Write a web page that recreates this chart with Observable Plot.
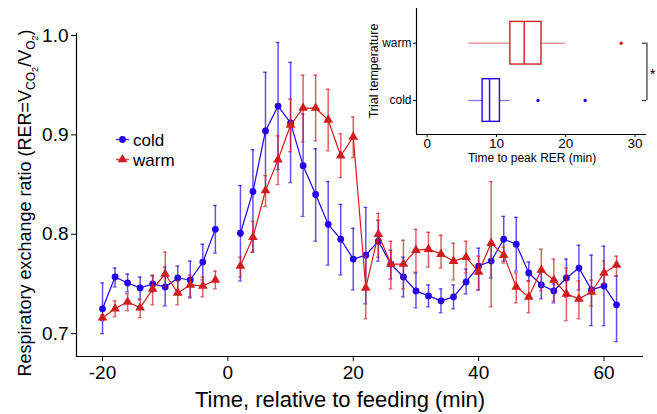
<!DOCTYPE html>
<html>
<head>
<meta charset="utf-8">
<script src="https://cdn.jsdelivr.net/npm/d3@7"></script>
<script src="https://cdn.jsdelivr.net/npm/@observablehq/plot@0.6"></script>
<style>
  html, body { margin: 0; padding: 0; background: #fff; }
  #wrap { position: relative; width: 657px; height: 414px; overflow: hidden; }
  #inset { position: absolute; left: 360px; top: 0px; }
</style>
</head>
<body>
<div id="wrap"><div id="main"></div><div id="inset"></div></div>
<script>
// ---------- main chart data ----------
const times = [-20,-18,-16,-14,-12,-10,-8,-6,-4,-2,2,4,6,8,10,12,14,16,18,20,22,24,26,28,30,32,34,36,38,40,42,44,46,48,50,52,54,56,58,60,62];
const coldMean = [0.725,0.757,0.751,0.746,0.750,0.747,0.756,0.754,0.772,0.805,0.801,0.843,0.904,0.929,0.912,0.869,0.840,0.810,0.795,0.775,0.779,0.793,0.770,0.757,0.743,0.738,0.733,0.737,0.752,0.768,0.773,0.795,0.790,0.761,0.749,0.743,0.756,0.766,0.744,0.748,0.729];
const coldLo   = [0.700,0.747,0.742,0.735,0.742,0.728,0.744,0.736,0.754,0.781,0.753,0.782,0.844,0.865,0.852,0.818,0.793,0.769,0.759,0.744,0.730,0.773,0.755,0.737,0.726,0.727,0.721,0.725,0.740,0.744,0.756,0.773,0.763,0.753,0.735,0.731,0.737,0.744,0.708,0.708,0.692];
const coldHi   = [0.751,0.766,0.760,0.757,0.758,0.767,0.768,0.773,0.790,0.829,0.849,0.885,0.963,0.993,0.973,0.921,0.886,0.853,0.830,0.806,0.827,0.814,0.784,0.777,0.761,0.749,0.745,0.749,0.765,0.786,0.790,0.818,0.817,0.772,0.763,0.750,0.775,0.789,0.779,0.788,0.758];
const warmMean = [0.716,0.725,0.732,0.726,0.745,0.760,0.741,0.749,0.748,0.754,0.768,0.797,0.844,0.875,0.910,0.927,0.927,0.915,0.879,0.898,0.746,0.800,0.770,0.770,0.784,0.785,0.780,0.773,0.777,0.762,0.791,0.779,0.747,0.737,0.764,0.754,0.740,0.735,0.742,0.761,0.769];
const warmLo   = [0.713,0.717,0.723,0.716,0.729,0.747,0.729,0.737,0.737,0.745,0.757,0.782,0.828,0.850,0.883,0.893,0.894,0.884,0.857,0.877,0.715,0.777,0.745,0.745,0.762,0.767,0.766,0.754,0.761,0.744,0.727,0.771,0.731,0.721,0.743,0.733,0.713,0.715,0.728,0.750,0.758];
const warmHi   = [0.719,0.733,0.740,0.734,0.759,0.782,0.753,0.759,0.757,0.763,0.777,0.813,0.859,0.899,0.936,0.960,0.960,0.946,0.901,0.918,0.778,0.821,0.793,0.794,0.805,0.802,0.799,0.791,0.793,0.778,0.853,0.787,0.761,0.753,0.785,0.775,0.766,0.753,0.754,0.773,0.778];
const xTicks = [-20, 0, 20, 40, 60];
const yTicks = [0.7, 0.8, 0.9, 1.0];
const seriesNames = ["cold", "warm"];

// ---------- inset (boxplot) data ----------
const boxCats   = ["warm", "cold"];
const boxPos    = [2, 1];
const boxWhLo   = [6, 6];
const boxQ1     = [12, 8];
const boxMedian = [14, 9];
const boxQ3     = [16.5, 10.5];
const boxWhHi   = [20, 12];
const outlierCat = ["warm", "cold", "cold"];
const outlierVal = [28, 16, 22.8];
const insetTicks = [0, 10, 20, 30];

const BLUE = "#2200ee";
const RED = "#d01e1e";
const colorOf = {cold: BLUE, warm: RED};
const FONT = "Arial, 'Liberation Sans', Helvetica, sans-serif";

const cold = times.map((t, i) => ({t, mean: coldMean[i], lo: coldLo[i], hi: coldHi[i], seg: t < 0 ? "a" : "b"}));
const warm = times.map((t, i) => ({t, mean: warmMean[i], lo: warmLo[i], hi: warmHi[i], seg: t < 0 ? "a" : "b"}));

const X0 = -24.15, X1 = 66.3, Y0 = 0.677, Y1 = 1.002;
const capHalf = 0.3;

function seriesMarks(data, color, symbol, r) {
  return [
    Plot.ruleX(data, {x: "t", y1: "lo", y2: "hi", stroke: color, strokeOpacity: 0.7, strokeWidth: 1.5}),
    Plot.ruleY(data, {y: "lo", x1: d => d.t - capHalf, x2: d => d.t + capHalf, stroke: color, strokeOpacity: 0.7, strokeWidth: 1.3}),
    Plot.ruleY(data, {y: "hi", x1: d => d.t - capHalf, x2: d => d.t + capHalf, stroke: color, strokeOpacity: 0.7, strokeWidth: 1.3}),
    Plot.line(data, {x: "t", y: "mean", z: "seg", stroke: color, strokeWidth: 1.2}),
    Plot.dot(data, {x: "t", y: "mean", symbol, r, fill: color, stroke: "none"})
  ];
}

const main = Plot.plot({
  width: 657, height: 414,
  marginLeft: 76, marginRight: 14, marginTop: 33, marginBottom: 58,
  style: {fontFamily: FONT, fontSize: "19px", color: "#000", background: "#fff", overflow: "visible"},
  x: {domain: [X0, X1], label: null},
  y: {domain: [Y0, Y1], label: null},
  marks: [
    Plot.axisX({ticks: xTicks, tickFormat: d => String(d), tickSize: 5, tickPadding: 4, fontSize: 19, label: null}),
    Plot.axisY({ticks: yTicks, tickFormat: d => d.toFixed(1), tickSize: 5, tickPadding: 3, fontSize: 19, label: null}),
    Plot.ruleX([X0], {stroke: "#000", strokeWidth: 1.2}),
    Plot.ruleY([Y0], {stroke: "#000", strokeWidth: 1.2}),
    ...seriesMarks(cold, BLUE, "circle", 3.4),
    ...seriesMarks(warm, RED, "triangle", 3.6)
  ]
});
document.getElementById("main").appendChild(main);

// axis titles and legend (real text)
const svg = d3.select(main);
svg.append("text")
  .attr("x", 340).attr("y", 407)
  .attr("text-anchor", "middle")
  .style("font-family", FONT).style("font-size", "22px").attr("fill", "#000")
  .text("Time, relative to feeding (min)");

const yl = svg.append("text")
  .attr("transform", "translate(31,203) rotate(-90)")
  .attr("text-anchor", "middle")
  .style("font-family", FONT).style("font-size", "18px").attr("fill", "#000");
yl.append("tspan").text("Respiratory exchange ratio (RER=V");
yl.append("tspan").attr("dy", 4).style("font-size", "12px").text("CO");
yl.append("tspan").attr("dy", 3).style("font-size", "9px").text("2");
yl.append("tspan").attr("dy", -7).text("/V");
yl.append("tspan").attr("dy", 4).style("font-size", "12px").text("O");
yl.append("tspan").attr("dy", 3).style("font-size", "9px").text("2");
yl.append("tspan").attr("dy", -7).text(")");

const lg = svg.append("g").style("font-family", FONT).style("font-size", "17px");
const legendRows = [
  {name: seriesNames[0], y: 139.5, sym: d3.symbolCircle, size: Math.PI * 3.4 * 3.4},
  {name: seriesNames[1], y: 159.5, sym: d3.symbolTriangle, size: Math.PI * 3.6 * 3.6}
];
legendRows.forEach(r => {
  const c = colorOf[r.name];
  lg.append("line").attr("x1", 116).attr("x2", 129).attr("y1", r.y).attr("y2", r.y)
    .attr("stroke", c).attr("stroke-width", 1.5).attr("stroke-opacity", 0.8);
  lg.append("path").attr("d", d3.symbol(r.sym, r.size)()).attr("transform", `translate(122.5,${r.y})`).attr("fill", c);
  lg.append("text").attr("x", 133).attr("y", r.y + 6).attr("text-anchor", "start").attr("fill", "#000").text(r.name);
});

// ---------- inset ----------
const boxes = boxCats.map((c, i) => ({cat: c, pos: boxPos[i], wlo: boxWhLo[i], q1: boxQ1[i], med: boxMedian[i], q3: boxQ3[i], whi: boxWhHi[i], color: colorOf[c]}));
const posOf = Object.fromEntries(boxes.map(b => [b.cat, b.pos]));
const outliers = outlierCat.map((c, i) => ({cat: c, pos: posOf[c], v: outlierVal[i], color: colorOf[c]}));
const half = 0.372;
const IX0 = -1.54, IX1 = 31.65, IY0 = 0.407, IY1 = 2.606;

const inset = Plot.plot({
  width: 297, height: 175,
  marginLeft: 56, marginRight: 11, marginTop: 8, marginBottom: 41,
  style: {fontFamily: FONT, fontSize: "13.5px", color: "#000", background: "transparent", overflow: "visible"},
  x: {domain: [IX0, IX1], label: null},
  y: {domain: [IY0, IY1], label: null},
  marks: [
    Plot.axisX({ticks: insetTicks, tickSize: 3, tickPadding: 1, fontSize: 13.5, label: null}),
    Plot.axisY({ticks: boxPos, tickFormat: d => boxCats[boxPos.indexOf(d)], tickSize: 3, tickPadding: 2, fontSize: 12, label: null}),
    Plot.ruleX([IX0], {stroke: "#000", strokeWidth: 1.2}),
    Plot.ruleY([IY0], {stroke: "#000", strokeWidth: 1.2}),
    Plot.ruleY(boxes, {y: "pos", x1: "wlo", x2: "q1", stroke: "color", strokeOpacity: 0.55, strokeWidth: 1.3}),
    Plot.ruleY(boxes, {y: "pos", x1: "q3", x2: "whi", stroke: "color", strokeOpacity: 0.55, strokeWidth: 1.3}),
    Plot.rect(boxes, {x1: "q1", x2: "q3", y1: d => d.pos - half, y2: d => d.pos + half, fill: "none", stroke: "color", strokeWidth: 1.4}),
    Plot.ruleX(boxes, {x: "med", y1: d => d.pos - half, y2: d => d.pos + half, stroke: "color", strokeWidth: 1.4}),
    Plot.dot(outliers, {x: "v", y: "pos", r: 1.7, fill: "color", stroke: "none"}),
    Plot.ruleX([31.72], {y1: posOf.cold, y2: posOf.warm, stroke: "#333", strokeWidth: 1.2}),
    Plot.ruleY([posOf.cold, posOf.warm], {x1: 31.05, x2: 31.72, stroke: "#333", strokeWidth: 1.2}),
    Plot.text(["*"], {x: 32.55, y: (posOf.cold + posOf.warm) / 2, dy: 2, fontSize: 15, fill: "#000"})
  ]
});
document.getElementById("inset").appendChild(inset);
const isvg = d3.select(inset);
isvg.append("text")
  .attr("transform", "translate(18,71) rotate(-90)")
  .attr("text-anchor", "middle")
  .style("font-family", FONT).style("font-size", "12.5px").attr("fill", "#000")
  .text("Trial temperature");
isvg.append("text")
  .attr("x", 172).attr("y", 162)
  .attr("text-anchor", "middle")
  .style("font-family", FONT).style("font-size", "12px").attr("fill", "#000")
  .text("Time to peak RER (min)");
</script>
</body>
</html>
